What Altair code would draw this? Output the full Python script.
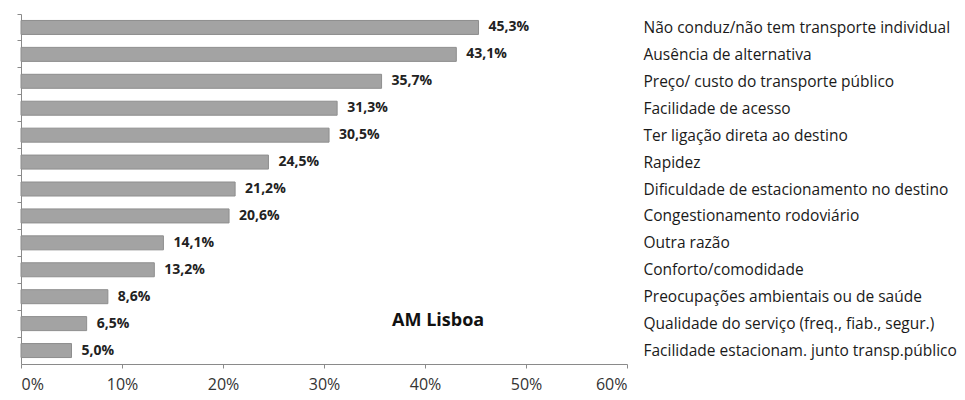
import altair as alt
import pandas as pd

categories = [
    "Não conduz/não tem transporte individual",
    "Ausência de alternativa",
    "Preço/ custo do transporte público",
    "Facilidade de acesso",
    "Ter ligação direta ao destino",
    "Rapidez",
    "Dificuldade de estacionamento no destino",
    "Congestionamento rodoviário",
    "Outra razão",
    "Conforto/comodidade",
    "Preocupações ambientais ou de saúde",
    "Qualidade do serviço (freq., fiab., segur.)",
    "Facilidade estacionam. junto transp.público",
]
values = [45.3, 43.1, 35.7, 31.3, 30.5, 24.5, 21.2, 20.6, 14.1, 13.2, 8.6, 6.5, 5.0]
x_ticks = [0, 10, 20, 30, 40, 50, 60]
annotation = ["AM Lisboa"]

df = pd.DataFrame({"motivo": categories, "pct": values})

FONT = "Open Sans"

base = alt.Chart(df).transform_calculate(
    label="replace(format(datum.pct, '.1f'), '.', ',') + '%'"
)

x_enc = alt.X(
    "pct:Q",
    scale=alt.Scale(domain=[0, 60], nice=False),
    axis=alt.Axis(
        values=x_ticks,
        labelExpr="datum.value + '%'",
        title=None,
        grid=False,
        tickSize=4,
        labelPadding=8,
        labelFontSize=16,
        labelFont=FONT,
        labelColor="#333333",
        domainColor="#8a8a8a",
        tickColor="#8a8a8a",
    ),
)

yscale = alt.Scale(paddingInner=0, paddingOuter=0)

bars = base.mark_bar(
    color="#a3a3a3", stroke="#8e8e8e", strokeWidth=1, height={"band": 0.52}
).encode(
    x=x_enc,
    y=alt.Y(
        "motivo:N",
        sort=categories,
        scale=yscale,
        axis=alt.Axis(
            orient="left",
            labels=False,
            title=None,
            ticks=True,
            tickSize=4,
            bandPosition=0,
            domainColor="#8a8a8a",
            tickColor="#8a8a8a",
            grid=False,
        ),
    ),
)

value_labels = base.mark_text(
    align="left", dx=10, font=FONT, fontWeight="bold", fontSize=14, color="#222222"
).encode(
    x="pct:Q",
    text="label:N",
    y=alt.Y(
        "motivo:N",
        sort=categories,
        scale=yscale,
        axis=alt.Axis(
            orient="right",
            title=None,
            domain=False,
            ticks=False,
            tickSize=0,
            labelPadding=16,
            labelFont=FONT,
            labelFontSize=15.5,
            labelColor="#1a1a1a",
            labelLimit=400,
            grid=False,
        ),
    ),
)

note = alt.Chart(pd.DataFrame({"t": annotation})).mark_text(
    font=FONT, fontWeight="bold", fontSize=18, color="#111111"
).encode(x=alt.datum(41.3), y=alt.value(307), text="t:N")

chart = (
    alt.layer(bars, value_labels, note)
    .resolve_scale(y="independent")
    .properties(
        width=606,
        height=350,
        autosize=alt.AutoSizeParams(type="none"),
        padding={"left": 13, "top": 6, "right": 330, "bottom": 34},
    )
    .configure_view(stroke=None)
)

chart.save("out.html", embed_options={"renderer": "svg", "actions": False})
